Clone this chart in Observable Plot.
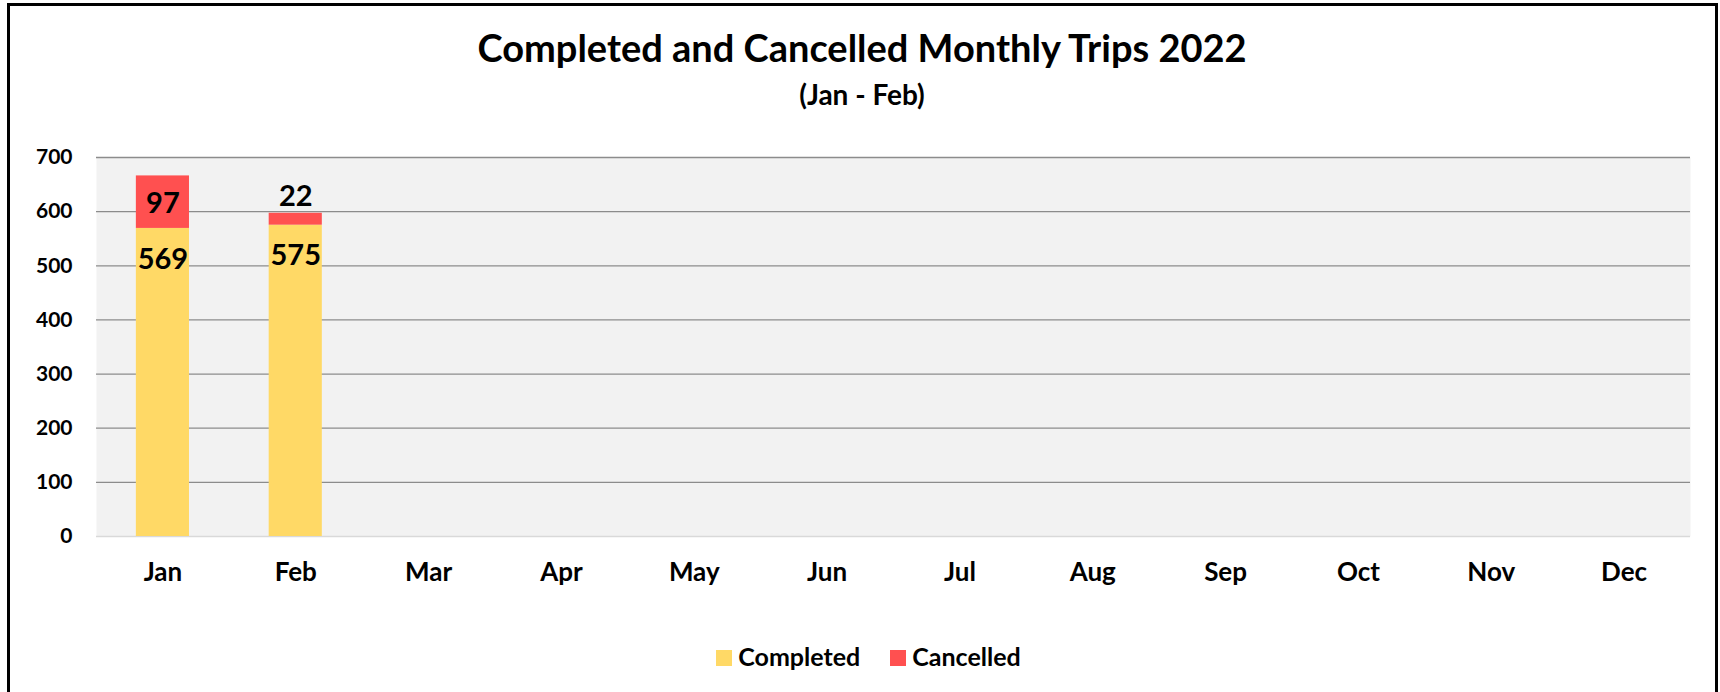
<!DOCTYPE html>
<html>
<head>
<meta charset="utf-8">
<script src="https://cdn.jsdelivr.net/npm/d3@7"></script>
<script src="https://cdn.jsdelivr.net/npm/@observablehq/plot@0.6"></script>
<style>
html, body { margin: 0; padding: 0; background: #fff; }
#page { position: relative; width: 1720px; height: 692px; overflow: hidden; font-family: Lato, "Open Sans", sans-serif; font-weight: 700; color: #000; }
#frame { position: absolute; left: 7px; top: 3px; width: 1711px; height: 760px; border: 3px solid #000; box-sizing: border-box; }
#title { position: absolute; left: 0; width: 1724px; top: 28px; text-align: center; font-size: 38px; line-height: 1; white-space: nowrap; }
#subtitle { position: absolute; left: 0; width: 1724px; top: 80px; text-align: center; font-size: 28px; line-height: 1; white-space: nowrap; }
#chart { position: absolute; left: 0; top: 130px; }
#legend { position: absolute; left: 0; width: 1737px; top: 644px; display: flex; justify-content: center; align-items: flex-start; font-size: 25px; line-height: 25px; }
#legend .sw { width: 16px; height: 16px; margin-top: 6px; margin-right: 6px; }
#legend .item { display: flex; align-items: flex-start; }
#legend .item + .item { margin-left: 30px; }
</style>
</head>
<body>
<div id="page">
  <div id="frame"></div>
  <div id="title">Completed and Cancelled Monthly Trips 2022</div>
  <div id="subtitle">(Jan - Feb)</div>
  <div id="chart"></div>
  <div id="legend"></div>
</div>
<script>
const months = ["Jan", "Feb", "Mar", "Apr", "May", "Jun", "Jul", "Aug", "Sep", "Oct", "Nov", "Dec"];
const completed = [569, 575];
const cancelled = [97, 22];
const seriesNames = ["Completed", "Cancelled"];
const seriesColors = ["#FFD966", "#FF5050"];
const yTicks = [0, 100, 200, 300, 400, 500, 600, 700];

// long table for the stacked bars
const rows = [];
completed.forEach((v, i) => rows.push({month: months[i], type: "Completed", value: v}));
cancelled.forEach((v, i) => rows.push({month: months[i], type: "Cancelled", value: v}));

// label positions derived from the data (Excel-like placement)
const completedLabels = completed.map((v, i) => ({month: months[i], y: v, text: String(v)}));
const cancelledInside = [];
const cancelledAbove = [];
cancelled.forEach((v, i) => {
  const base = completed[i];
  if (v >= 50) cancelledInside.push({month: months[i], y: base + v / 2, text: String(v)});
  else cancelledAbove.push({month: months[i], y: base + v, text: String(v)});
});

const chart = Plot.plot({
  width: 1720,
  height: 470,
  marginLeft: 96,
  marginRight: 30,
  marginTop: 27,
  marginBottom: 64,
  style: {fontFamily: "Lato, 'Open Sans', sans-serif", fontWeight: 700, color: "#000", background: "transparent", overflow: "visible"},
  x: {domain: months, paddingInner: 0.6, paddingOuter: 0.3, round: false, label: null},
  y: {domain: [0, 700], label: null},
  color: {domain: seriesNames, range: seriesColors},
  marks: [
    Plot.frame({fill: "#f2f2f2", stroke: "none"}),
    Plot.ruleY(yTicks.filter(d => d > 0), {stroke: "#8c8c8c", strokeWidth: 1.3}),
    Plot.ruleY([0], {stroke: "#d9d9d9", strokeWidth: 1.5}),
    Plot.barY(rows, {x: "month", y: "value", fill: "type", order: seriesNames}),
    Plot.text(completedLabels, {x: "month", y: "y", text: "text", dy: 31, fontSize: 29, fontWeight: 700, fill: "#000"}),
    Plot.text(cancelledInside, {x: "month", y: "y", text: "text", dy: 2, fontSize: 29, fontWeight: 700, fill: "#000"}),
    Plot.text(cancelledAbove, {x: "month", y: "y", text: "text", dy: -17, fontSize: 29, fontWeight: 700, fill: "#000"}),
    Plot.axisX({tickSize: 0, tickPadding: 26, fontSize: 26, fontWeight: 700, label: null}),
    Plot.axisY({ticks: yTicks, tickSize: 0, tickPadding: 24, fontSize: 21, fontWeight: 700, label: null})
  ]
});
document.getElementById("chart").appendChild(chart);

const legend = document.getElementById("legend");
seriesNames.forEach((name, i) => {
  const item = document.createElement("div");
  item.className = "item";
  const sw = document.createElement("div");
  sw.className = "sw";
  sw.style.background = seriesColors[i];
  const label = document.createElement("span");
  label.textContent = name;
  item.appendChild(sw);
  item.appendChild(label);
  legend.appendChild(item);
});
</script>
</body>
</html>
